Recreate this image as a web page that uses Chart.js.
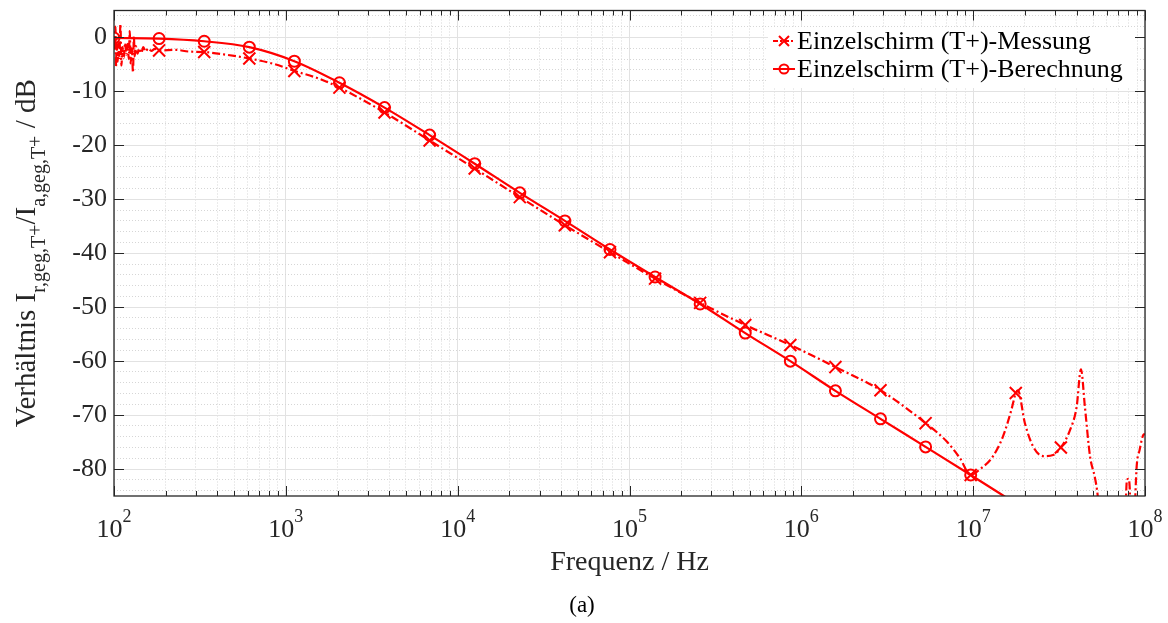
<!DOCTYPE html>
<html>
<head>
<meta charset="utf-8">
<script src="https://cdn.jsdelivr.net/npm/chart.js"></script>
<style>
  html, body { margin: 0; padding: 0; background: #fff; }
  #chart { display: block; }
</style>
</head>
<body>
<canvas id="chart" width="1168" height="623"></canvas>
<script>
// frequencies where markers sit (every n-th point of the log sweep)
const markerFreq = [100, 183, 335, 613, 1121, 2051, 3753, 6867, 12566, 22993, 42073, 76984, 140863,
    257750, 471631, 862979, 1579000, 2889000, 5287000, 9674000, 17700000, 32390000]

// Einzelschirm (T+)-Berechnung
const calcFreq = [100, 183, 335, 613, 1121, 2051, 3753, 6867, 12566, 22993, 42073, 76984, 140863,
    257750, 471631, 862979, 1579000, 2889000, 5287000, 9674000, 17700000]
const calcDb = [-0.1, -0.2, -0.7, -1.8, -4.4, -8.4, -13.0, -18.1, -23.4, -28.8, -34.0, -39.3, -44.4,
    -49.4, -54.8, -60.0, -65.5, -70.7, -75.9, -81.1, -86.4]

// Einzelschirm (T+)-Messung
const messFreq = [100, 101, 102, 102.7, 103.5, 105, 106, 107.5, 109, 110.5, 112, 114, 116, 118, 120, 122,
    123.5, 125, 127, 129, 130.5, 132, 134, 137, 140, 144, 148, 153, 158, 165, 173, 183, 230, 270, 335, 450,
    613, 850, 1121, 1550, 2051, 3753, 6867, 12566, 22993, 42073, 76984, 140863, 257750, 471631, 862979,
    1579000, 2889000, 5287000, 7020000, 8380000, 9674000, 11000000, 13000000, 14900000, 16700000,
    17700000, 18200000, 20000000, 22400000, 25600000, 29200000, 32390000, 36600000, 40000000, 42400000,
    44700000, 47900000, 51200000, 53000000, 54700000, 62500000, 75400000, 78500000, 80000000, 81500000,
    83000000, 86000000, 89400000, 93000000, 97700000, 100000000]
const messDb = [-0.8, -2.5, 2.0, -5.5, -1.2, -4.5, -0.8, -3.8, 2.5, -5.2, -1.8, -3.8, -1.0, -3.2, -1.2, -4.0,
    1.2, -4.8, -2.0, -6.5, 0.2, -3.5, -1.6, -3.0, -2.0, -2.9, -1.8, -2.6, -2.0, -2.5, -2.1, -2.4, -2.3, -2.6, -2.7, -3.2,
    -3.9, -4.9, -6.2, -7.6, -9.3, -13.9, -19.1, -24.3, -29.6, -34.8, -39.8, -44.7, -49.2, -53.3, -57.0,
    -61.1, -65.4, -71.5, -74.9, -78.0, -81.1, -80.0, -77.7, -74.0, -69.0,
    -65.9, -65.4, -71.5, -75.9, -77.6, -77.4, -76.0, -72.8, -68.5, -61.5,
    -68.5, -77.7, -81.7, -84.8, -90, -96, -96, -82, -81.8, -83.5,
    -96, -92, -79.6, -76.5, -73.7, -73.5]

// axis ticks
const xTickExp = [2, 3, 4, 5, 6, 7, 8]
const yMajor = [0, -10, -20, -30, -40, -50, -60, -70, -80]
const yMin = -85, yMax = 5

const red = '#ff0000'
const axisColor = '#262626'
const serif = '"Liberation Serif", "Times New Roman", serif'

const isDecade = v => Math.abs(Math.log10(v) - Math.round(Math.log10(v))) < 1e-9
const xGrid = []
xTickExp.forEach(e => {
    if (e === 8) { xGrid.push(1e8); return }
    for (let s = 1; s <= 9; s++) xGrid.push(s * 10 ** e)
})
const yGrid = []
for (let v = yMax - 1; v >= yMin + 1; v -= 2) yGrid.push(v)

const isMarker = ctx => ctx.raw && markerFreq.includes(ctx.raw.x) && ctx.raw.y >= yMin

function drawCross(ctx, x, y, h) {
    ctx.beginPath()
    ctx.moveTo(x - h, y - h); ctx.lineTo(x + h, y + h)
    ctx.moveTo(x - h, y + h); ctx.lineTo(x + h, y - h)
    ctx.stroke()
}

const frame = {
    id: 'frame',
    afterDraw(chart) {
        const { ctx, chartArea: a, scales: { x, y } } = chart
        ctx.save()

        // legend (white box, no border)
        ctx.fillStyle = '#fff'
        ctx.fillRect(768, 27, 368, 61)
        ctx.strokeStyle = red
        ctx.lineWidth = 2
        const rows = [
            { text: 'Einzelschirm (T+)-Messung', cy: 41, dash: [5, 2, 2, 2], mark: 'x' },
            { text: 'Einzelschirm (T+)-Berechnung', cy: 69, dash: [], mark: 'o' }
        ]
        rows.forEach(r => {
            ctx.setLineDash(r.dash)
            ctx.beginPath(); ctx.moveTo(773, r.cy); ctx.lineTo(795, r.cy); ctx.stroke()
            ctx.setLineDash([])
            if (r.mark === 'x') drawCross(ctx, 784, r.cy, 5)
            else { ctx.beginPath(); ctx.arc(784, r.cy, 4.5, 0, Math.PI * 2); ctx.stroke() }
            ctx.fillStyle = '#000'
            ctx.font = '26px ' + serif
            ctx.textBaseline = 'alphabetic'
            ctx.fillText(r.text, 797, r.cy + 8)
        })

        // inner tick marks
        ctx.strokeStyle = axisColor
        ctx.lineWidth = 1
        ctx.beginPath()
        x.ticks.forEach(t => {
            const px = Math.round(x.getPixelForValue(t.value)) + 0.5
            const len = isDecade(t.value) ? 10 : 5
            ctx.moveTo(px, a.bottom); ctx.lineTo(px, a.bottom - len)
            ctx.moveTo(px, a.top); ctx.lineTo(px, a.top + len)
        })
        yMajor.forEach(v => {
            const py = Math.round(y.getPixelForValue(v)) + 0.5
            ctx.moveTo(a.left, py); ctx.lineTo(a.left + 10, py)
            ctx.moveTo(a.right, py); ctx.lineTo(a.right - 10, py)
        })
        ctx.stroke()

        // box
        ctx.lineWidth = 1.3
        ctx.strokeRect(a.left, a.top, a.right - a.left, a.bottom - a.top)

        // x tick labels 10^n
        ctx.fillStyle = axisColor
        ctx.textAlign = 'left'
        xTickExp.forEach(e => {
            const px = x.getPixelForValue(10 ** e)
            ctx.font = '26px ' + serif
            const w1 = ctx.measureText('10').width
            ctx.font = '18px ' + serif
            const w2 = ctx.measureText(String(e)).width
            const left = px - (w1 + w2) / 2
            ctx.font = '26px ' + serif
            ctx.fillText('10', left, 537)
            ctx.font = '18px ' + serif
            ctx.fillText(String(e), left + w1, 522)
        })

        // x title
        ctx.font = '28px ' + serif
        ctx.textAlign = 'center'
        ctx.fillText('Frequenz / Hz', (a.left + a.right) / 2, 570)

        // caption
        ctx.fillStyle = '#000'
        ctx.font = '23px ' + serif
        ctx.fillText('(a)', 582, 612)

        // y title with subscripts, rotated
        const parts = [
            { t: 'Verhältnis I', size: 29, dy: 0 },
            { t: 'r,geg,T', size: 20, dy: 10 },
            { t: '+', size: 20, dy: 7 },
            { t: '/I', size: 29, dy: 0 },
            { t: 'a,geg,T', size: 20, dy: 10 },
            { t: '+', size: 20, dy: 7 },
            { t: ' / dB', size: 29, dy: 0 }
        ]
        ctx.fillStyle = axisColor
        ctx.textAlign = 'left'
        let total = 0
        parts.forEach(p => { ctx.font = p.size + 'px ' + serif; p.w = ctx.measureText(p.t).width; total += p.w })
        ctx.translate(35, (a.top + a.bottom) / 2)
        ctx.rotate(-Math.PI / 2)
        let pos = -total / 2
        parts.forEach(p => {
            ctx.font = p.size + 'px ' + serif
            ctx.fillText(p.t, pos, p.dy)
            pos += p.w
        })

        ctx.restore()
    }
}

new Chart(document.getElementById('chart'), {
    type: 'line',
    data: {
        datasets: [{
            label: 'Einzelschirm (T+)-Messung',
            data: messFreq.map((f, i) => ({ x: f, y: messDb[i] })),
            borderColor: red,
            borderWidth: 2.2,
            borderDash: [8, 3, 2, 3],
            cubicInterpolationMode: 'monotone',
            pointStyle: 'crossRot',
            pointRadius: ctx => isMarker(ctx) ? 8.5 : 0,
            pointBorderColor: red,
            pointBorderWidth: 2,
            pointBackgroundColor: 'rgba(0,0,0,0)'
        }, {
            label: 'Einzelschirm (T+)-Berechnung',
            data: calcFreq.map((f, i) => ({ x: f, y: calcDb[i] })),
            borderColor: red,
            borderWidth: 2.2,
            cubicInterpolationMode: 'monotone',
            pointStyle: 'circle',
            pointRadius: ctx => isMarker(ctx) ? 5.5 : 0,
            pointBorderColor: red,
            pointBorderWidth: 2,
            pointBackgroundColor: 'rgba(0,0,0,0)'
        }]
    },
    options: {
        responsive: false,
        animation: false,
        events: [],
        layout: { padding: { left: 0, top: 10, right: 23, bottom: 0 } },
        plugins: { legend: { display: false }, tooltip: { enabled: false } },
        scales: {
            x: {
                type: 'logarithmic',
                min: 100,
                max: 1e8,
                afterBuildTicks: s => { s.ticks = xGrid.map(v => ({ value: v, major: isDecade(v) })) },
                afterFit: s => { s.height = 127; s.paddingLeft = 0; s.paddingRight = 0 },
                ticks: { display: false, autoSkip: false },
                grid: {
                    drawTicks: false,
                    lineWidth: 1,
                    color: c => c.tick && isDecade(c.tick.value) ? '#e2e2e2' : '#d6d6d6'
                },
                border: { display: false, dash: c => c.tick && !isDecade(c.tick.value) ? [1, 2] : [] }
            },
            y: {
                type: 'linear',
                min: yMin,
                max: yMax,
                afterBuildTicks: s => { s.ticks = yGrid.map(v => ({ value: v })) },
                afterFit: s => { s.width = 114; s.paddingTop = 0; s.paddingBottom = 0 },
                ticks: {
                    autoSkip: false,
                    padding: 7,
                    color: axisColor,
                    font: { family: serif, size: 26 },
                    callback: v => yMajor.includes(v) ? String(v) : ''
                },
                grid: {
                    drawTicks: false,
                    lineWidth: 1,
                    color: c => c.tick && c.tick.value % 10 === 0 ? '#e2e2e2' : '#d6d6d6'
                },
                border: { display: false, dash: c => c.tick && c.tick.value % 10 !== 0 ? [1, 2] : [] }
            }
        }
    },
    plugins: [frame]
})
</script>
</body>
</html>
